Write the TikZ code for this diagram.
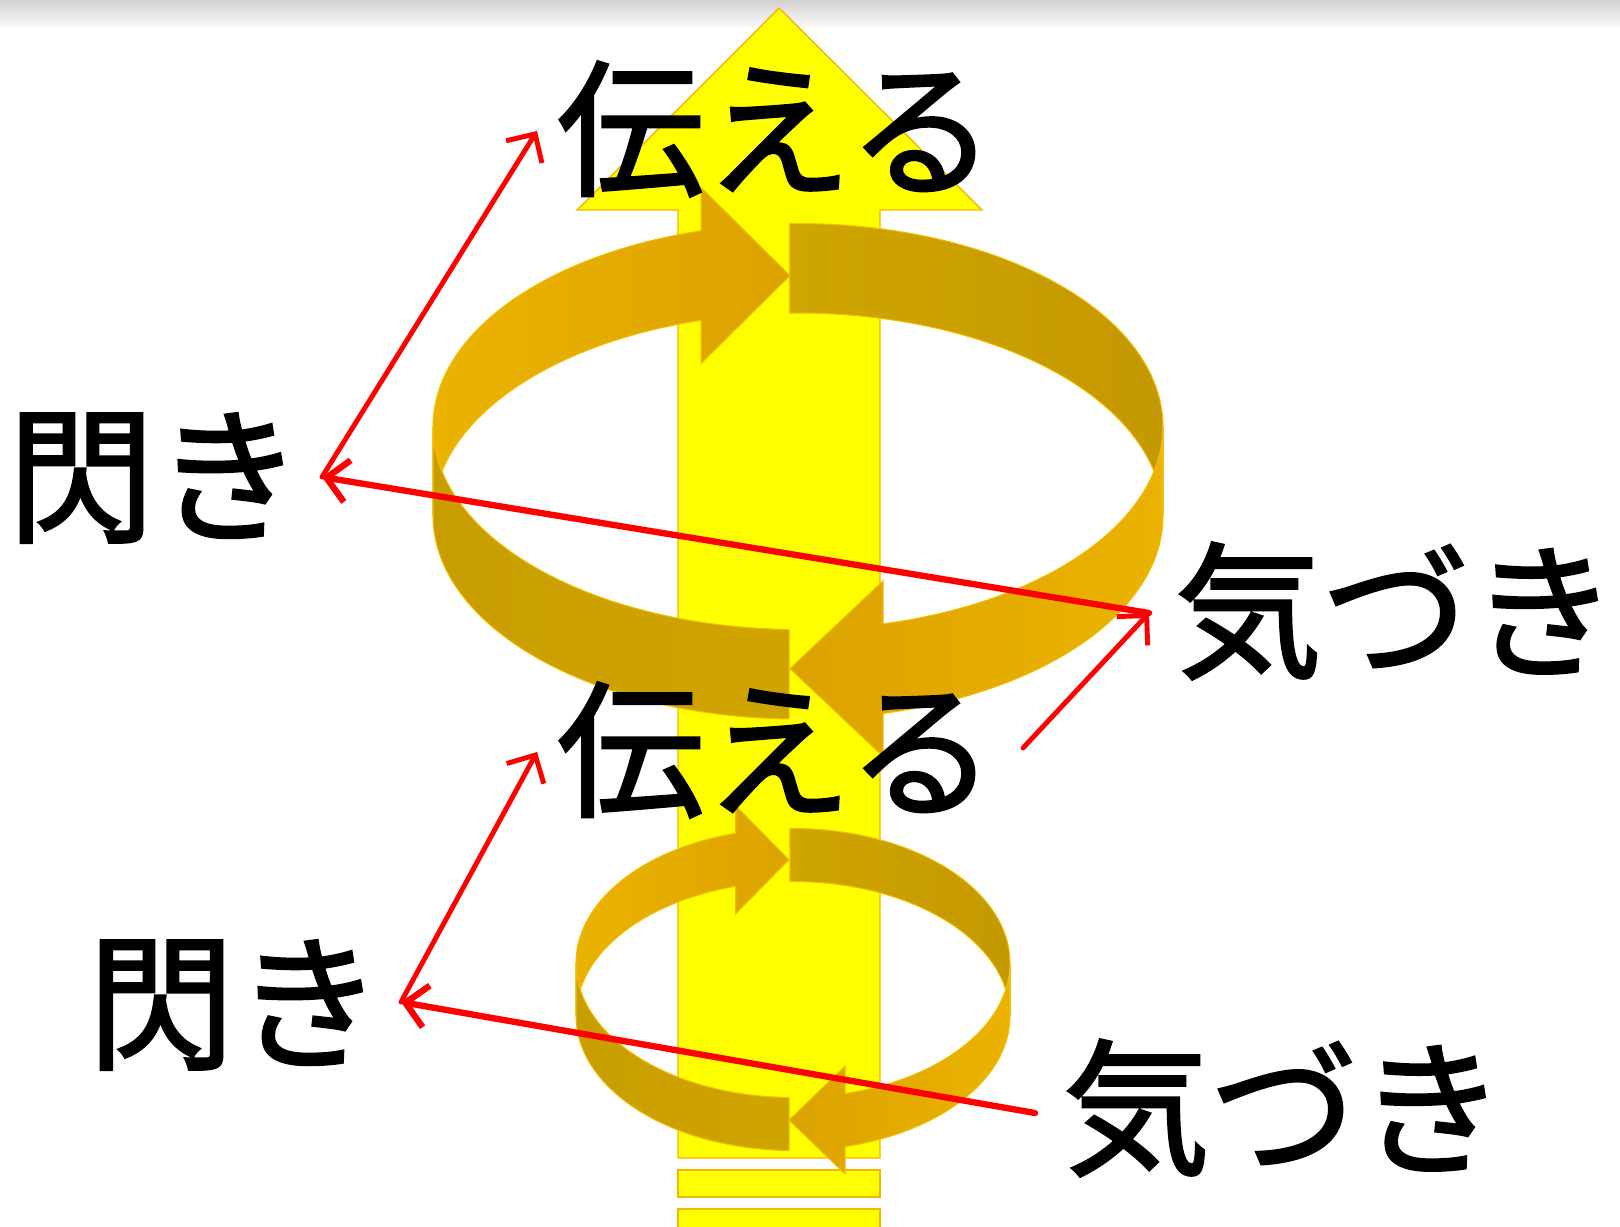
\documentclass[tikz,border=0pt]{standalone}
\usepackage{fontspec}
\newfontfamily\jp{Noto Sans CJK JP}[FakeBold=1.6]
\usetikzlibrary{arrows.meta}

\definecolor{pillar}{RGB}{255,255,0}
\definecolor{pillaredge}{RGB}{245,182,0}
\definecolor{goldlight}{RGB}{235,179,0}
\definecolor{goldhead}{RGB}{220,162,0}
\definecolor{goldback}{RGB}{207,165,0}
\definecolor{golddeep}{RGB}{196,152,0}
\definecolor{golddark}{RGB}{200,157,0}
\definecolor{goldfront}{RGB}{208,164,0}
\definecolor{ringedge}{RGB}{244,190,0}
\definecolor{linkred}{RGB}{255,0,0}
\definecolor{topgray}{RGB}{210,210,210}
\definecolor{topwhite}{RGB}{249,249,249}

\tikzset{
  word/.style={font=\jp\fontsize{42}{42}\selectfont, inner sep=0pt},
  link/.style={linkred, line width=1.4pt, line cap=round,
    -{Straight Barb[length=6pt,width=12pt]}},
  longlink/.style={link, line width=1.8pt},
  band/.style={draw=ringedge, line width=0.3pt},
  block/.style={draw=pillaredge, fill=pillar, line width=0.4pt},
}

\begin{document}
\begin{tikzpicture}[x=0.01cm,y=-0.01cm]
  \useasboundingbox (0,0) rectangle (1620,1226);
  \shade[top color=topgray, bottom color=topwhite] (0,0) rectangle (1620,26);

  % the yellow arrow and its foot
  \draw[block] (678,1158) -- (678,210) -- (577,210) -- (779,8)
    -- (982,210) -- (880,210) -- (880,1158) -- cycle;
  \draw[block] (678,1170) rectangle (880,1197);
  \draw[block] (678,1209) rectangle (880,1240);

  % two turning rings
  \foreach \cx/\ra/\rb/\ya/\yb/\tl/\tr/\fl/\fr/\hw/\tx in
    {798/365/203/426.5/516/254.6/268.7/91.4/76.5/88/790,
     793/217/134.5/963/1016/254.7/269.2/91/76.1/54/789} {
    \def\ym{(\ya+\yb)/2}
    % back left, head on top
    \path[band, left color=goldlight, right color=goldhead]
      plot[domain=180:\tl, samples=50, variable=\p] ({\cx+\ra*cos(\p)},{\ya+\rb*sin(\p)})
      -- ({\cx+\ra*cos(\tl)},{\ym+\rb*sin(\tl)-\hw})
      -- (\tx,{\ym+\rb*sin(\tl)})
      -- ({\cx+\ra*cos(\tl)},{\ym+\rb*sin(\tl)+\hw})
      -- plot[domain=\tl:180, samples=50, variable=\p] ({\cx+\ra*cos(\p)},{\yb+\rb*sin(\p)})
      -- cycle;
    % back right
    \path[band, left color=goldback, right color=golddeep]
      plot[domain=\tr:360, samples=50, variable=\p] ({\cx+\ra*cos(\p)},{\ya+\rb*sin(\p)})
      -- plot[domain=360:\tr, samples=50, variable=\p] ({\cx+\ra*cos(\p)},{\yb+\rb*sin(\p)})
      -- cycle;
    % front left
    \path[band, left color=golddark, right color=goldfront]
      plot[domain=\fl:180, samples=50, variable=\p] ({\cx+\ra*cos(\p)},{\ya+\rb*sin(\p)})
      -- plot[domain=180:\fl, samples=50, variable=\p] ({\cx+\ra*cos(\p)},{\yb+\rb*sin(\p)})
      -- cycle;
    % front right, head at the bottom
    \path[band, left color=goldhead, right color=goldlight]
      plot[domain=0:\fr, samples=50, variable=\p] ({\cx+\ra*cos(\p)},{\ya+\rb*sin(\p)})
      -- ({\cx+\ra*cos(\fr)},{\ym+\rb*sin(\fr)-\hw})
      -- (\tx,{\ym+\rb*sin(\fr)})
      -- ({\cx+\ra*cos(\fr)},{\ym+\rb*sin(\fr)+\hw})
      -- plot[domain=\fr:0, samples=50, variable=\p] ({\cx+\ra*cos(\p)},{\yb+\rb*sin(\p)})
      -- cycle;
  }

  % words
  \node[word] (tell1) at (776,129) {伝える};
  \node[word] (tell2) at (776,750) {伝える};
  \node[word] (idea1) at (155,478) {閃き};
  \node[word] (note1) at (1396,611) {気づき};
  \node[word] (idea2) at (235,1005) {閃き};
  \node[word] (note2) at (1284,1108) {気づき};

  % red links
  \coordinate (n2) at (1035,1113);
  \coordinate (i2) at (401,1002);
  \coordinate (t2) at (537,752);
  \coordinate (t2out) at (1023,748);
  \coordinate (n1) at (1149,613);
  \coordinate (i1) at (322,477);
  \coordinate (t1) at (537,131);
  \draw[longlink] (n2) -- (i2);
  \draw[link] (i2) -- (t2);
  \draw[link] (t2out) -- (n1);
  \draw[longlink] (n1) -- (i1);
  \draw[link] (i1) -- (t1);
\end{tikzpicture}
\end{document}
